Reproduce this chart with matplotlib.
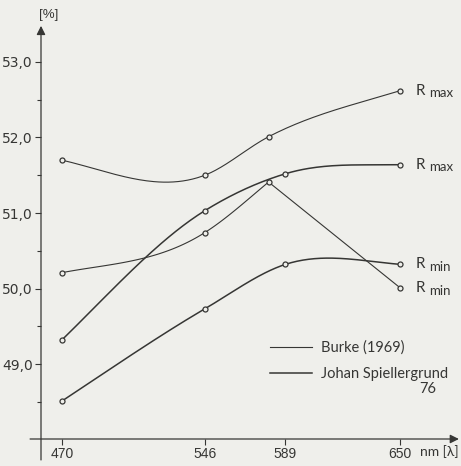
import numpy as np
import matplotlib.pyplot as plt

# wavelengths [nm]
wl_burke = [470, 546, 580, 650]
wl_spiel = [470, 546, 589, 650]

# reflectance [%]
burke_rmax = [51.70, 51.50, 52.01, 52.62]
burke_rmin = [50.21, 50.74, 51.41, 50.01]
spiel_rmax = [49.32, 51.03, 51.52, 51.64]
spiel_rmin = [48.51, 49.73, 50.32, 50.32]

xticks = [470, 546, 589, 650]
yticks = [49, 50, 51, 52, 53]
ytick_labels = ["49,0", "50,0", "51,0", "52,0", "53,0"]

ink = "#363634"
paper = "#efefeb"


def smooth(x, y, n=60):
    # hermite curve through the points, only for drawing the smooth line
    x = np.asarray(x, float)
    y = np.asarray(y, float)
    k = len(x)
    if k < 3:
        return x, y
    h = np.diff(x)
    sec = np.diff(y) / h
    m = np.zeros(k)
    # three-point (bessel) tangents inside
    m[1:-1] = (h[1:] * sec[:-1] + h[:-1] * sec[1:]) / (h[:-1] + h[1:])
    m[0] = (5 * sec[0] - m[1]) / 4
    m[-1] = (5 * sec[-1] - m[-2]) / 4
    xs, ys = [], []
    t = np.linspace(0, 1, n)
    h00 = 2 * t ** 3 - 3 * t ** 2 + 1
    h10 = t ** 3 - 2 * t ** 2 + t
    h01 = -2 * t ** 3 + 3 * t ** 2
    h11 = t ** 3 - t ** 2
    for i in range(k - 1):
        xs.append(x[i] + t * h[i])
        ys.append(h00 * y[i] + h10 * h[i] * m[i] + h01 * y[i + 1] + h11 * h[i] * m[i + 1])
    return np.concatenate(xs), np.concatenate(ys)


def draw(ax, x, y, lw, corner=None, label=None):
    if corner is None:
        xs, ys = smooth(x, y)
    else:
        x1, y1 = smooth(x[:corner + 1], y[:corner + 1])
        x2, y2 = smooth(x[corner:], y[corner:])
        xs, ys = np.r_[x1, x2], np.r_[y1, y2]
    ax.plot(xs, ys, color=ink, lw=lw, label=label, zorder=2)
    ax.plot(x, y, ls="none", marker="o", ms=3.6, mfc=paper, mec=ink, mew=0.9, zorder=3)


fig = plt.figure(figsize=(4.61, 4.66), dpi=100, facecolor=paper)
ax = fig.add_axes([41 / 461, 27 / 466, 420 / 461, 419 / 466])
ax.set_facecolor(paper)
ax.set_xlim(458.82, 682.46)
ax.set_ylim(48.007, 53.556)
for s in ax.spines.values():
    s.set_visible(False)

# axes with arrows, crossing at the origin
ax.annotate("", xy=(0, 0.986), xytext=(0, -0.05), xycoords="axes fraction",
            arrowprops=dict(arrowstyle="-|>", color=ink, lw=0.9, mutation_scale=13,
                            shrinkA=0, shrinkB=0), annotation_clip=False)
ax.annotate("", xy=(0.995, 0), xytext=(-0.026, 0), xycoords="axes fraction",
            arrowprops=dict(arrowstyle="-|>", color=ink, lw=0.9, mutation_scale=13,
                            shrinkA=0, shrinkB=0), annotation_clip=False)

draw(ax, wl_burke, burke_rmax, 0.8, label="Burke (1969)")
draw(ax, wl_burke, burke_rmin, 0.8, corner=2)
draw(ax, wl_spiel, spiel_rmax, 1.1, label="Johan Spiellergrund")
draw(ax, wl_spiel, spiel_rmin, 1.1)

ax.set_yticks(yticks, ytick_labels)
ax.set_yticks([48.5, 49.5, 50.5, 51.5, 52.5], minor=True)
ax.set_xticks(xticks, [str(v) for v in xticks])
ax.tick_params(axis="both", which="both", direction="out", color=ink, width=0.8)
ax.tick_params(axis="y", which="major", length=4, pad=2)
ax.tick_params(axis="y", which="minor", length=3)
ax.tick_params(axis="x", length=4, pad=1.5)
for t in ax.get_yticklabels():
    t.set_family(["Liberation Sans Narrow", "DejaVu Sans"])
    t.set_fontsize(10)
    t.set_color(ink)
for t in ax.get_xticklabels():
    t.set_family(["Liberation Sans", "DejaVu Sans"])
    t.set_fontsize(10)
    t.set_color(ink)

hum = ["Lato", "DejaVu Sans"]
fig.text(49 / 461, 1 - 15 / 466, "[%]", ha="center", va="center", fontsize=9.5,
         color=ink, family=["Liberation Sans", "DejaVu Sans"])
fig.text(420 / 461, 1 - 452 / 466, "nm [λ]", ha="left", va="center", fontsize=10,
         color=ink, family=hum)

# curve labels at the 650 nm end
for val, sub in [(burke_rmax[-1], "max"), (spiel_rmax[-1], "max"),
                 (spiel_rmin[-1], "min"), (burke_rmin[-1], "min")]:
    ax.annotate("R", xy=(650, val), xytext=(11.5, 0), textcoords="offset points",
                ha="left", va="center", fontsize=11, color=ink, family=hum)
    ax.annotate(sub, xy=(650, val), xytext=(21, -2), textcoords="offset points",
                ha="left", va="center", fontsize=9.5, color=ink, family=hum)

ax.legend(loc="upper left", bbox_to_anchor=(223 / 420, 1 - (335 - 20) / 419),
          frameon=False, handlelength=2.9, handletextpad=0.6, labelspacing=0.8,
          prop={"family": hum, "size": 10.5}, labelcolor=ink, borderaxespad=0)
fig.text(436 / 461, 1 - 389 / 466, "76", ha="right", va="center", fontsize=10.5,
         color=ink, family=hum)

fig.savefig("out.png", dpi=100, facecolor=paper)
